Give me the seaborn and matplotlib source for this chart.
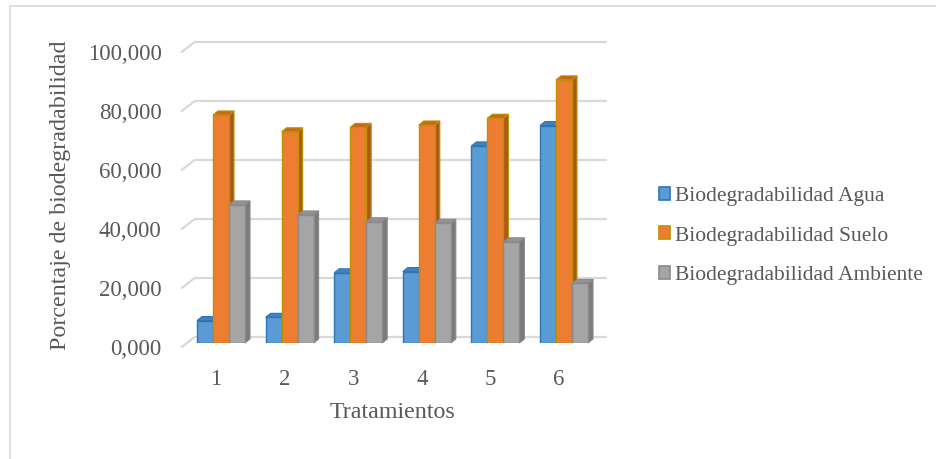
import matplotlib
matplotlib.use("Agg")
import matplotlib.pyplot as plt
import matplotlib.transforms as mtransforms
from matplotlib.patches import Polygon, Patch
from matplotlib.lines import Line2D
import seaborn as sns
import pandas as pd

# Data
tratamientos = ["1", "2", "3", "4", "5", "6"]
series = ["Biodegradabilidad Agua", "Biodegradabilidad Suelo", "Biodegradabilidad Ambiente"]
agua = [7.6, 8.7, 23.8, 24.2, 66.8, 73.7]
suelo = [77.3, 71.6, 73.1, 73.9, 76.2, 89.2]
ambiente = [46.8, 43.4, 41.1, 40.6, 34.3, 20.2]
y_ticks = [0, 20, 40, 60, 80, 100]
y_tick_labels = ["0,000", "20,000", "40,000", "60,000", "80,000", "100,000"]

df = pd.DataFrame({
    "Tratamiento": tratamientos * 3,
    "Serie": [s for s in series for _ in tratamientos],
    "Valor": agua + suelo + ambiente,
})

front = ["#5B9BD5", "#ED7D31", "#A5A5A5"]
edges = ["#2E75B6", "#C09000", "#8A8A8A"]
sides = ["#2F6EAA", "#A85A1C", "#7B7B7B"]
tops = ["#3D82C4", "#C8651F", "#939393"]
text_col = "#595959"
grid_col = "#D9D9D9"

sns.set_theme(style="white")
plt.rcParams["font.family"] = ["Liberation Serif", "DejaVu Serif"]

W, H, DPI = 936, 459, 100
fig = plt.figure(figsize=(W / DPI, H / DPI), dpi=DPI)
fig.patch.set_facecolor("white")

# chart frame: top and left edges
fig.add_artist(Line2D([9.5 / W, 1.0], [(H - 5.5) / H, (H - 5.5) / H],
                      transform=fig.transFigure, color="#D9D9D9", lw=1.2))
fig.add_artist(Line2D([9.5 / W, 9.5 / W], [0, (H - 5.5) / H],
                      transform=fig.transFigure, color="#D9D9D9", lw=1.2))

ax_l, ax_r, ax_t, ax_b = 186.7, 598.3, 48, 343
ax = fig.add_axes([ax_l / W, (H - ax_b) / H, (ax_r - ax_l) / W, (ax_b - ax_t) / H])
ax.set_facecolor("none")

sns.barplot(data=df, x="Tratamiento", y="Valor", hue="Serie", hue_order=series,
            order=tratamientos, palette=front, width=0.7, gap=0, legend=False,
            saturation=1, ax=ax)
ax.set_xlim(-0.5, 5.5)
ax.set_ylim(0, 100)

def px(dx, dy):
    return mtransforms.ScaledTranslation(dx / DPI, dy / DPI, fig.dpi_scale_trans)

back = ax.transData + px(8, 6)
frontT = ax.transData + px(-5, -4)

# back wall gridlines and left diagonals
for v in y_ticks:
    ax.add_line(Line2D([-0.5, 5.5], [v, v], transform=back, color=grid_col, lw=1.6,
                       zorder=0.5, clip_on=False))
    p0 = frontT.transform((-0.5, v))
    p1 = back.transform((-0.5, v))
    ax.add_line(Line2D([p0[0], p1[0]], [p0[1], p1[1]], transform=None, color=grid_col,
                       lw=1.6, zorder=0.5, clip_on=False))

# 3D depth for the bars
px_per_x = (ax_r - ax_l) / 6.0
px_per_y = (ax_b - ax_t) / 100.0
ddx = 5 / px_per_x
ddy = 4 / px_per_y
n = len(tratamientos)
for i, bar in enumerate(ax.patches):
    k = i // n
    x0 = bar.get_x()
    x1 = x0 + bar.get_width()
    h = bar.get_height()
    z = 3 + k * 0.1
    bar.set_edgecolor(edges[k])
    bar.set_linewidth(1.0)
    bar.set_zorder(z)
    side = Polygon([(x1, 0), (x1, h), (x1 + ddx, h + ddy), (x1 + ddx, ddy)], closed=True,
                   facecolor=sides[k], edgecolor=edges[k], lw=0.8, zorder=z - 0.05,
                   clip_on=False)
    top = Polygon([(x0, h), (x1, h), (x1 + ddx, h + ddy), (x0 + ddx, h + ddy)], closed=True,
                  facecolor=tops[k], edgecolor=edges[k], lw=0.8, zorder=z - 0.04,
                  clip_on=False)
    ax.add_patch(side)
    ax.add_patch(top)

for s in ax.spines.values():
    s.set_visible(False)
ax.tick_params(axis="both", length=0, colors=text_col, labelsize=16.5)
ax.set_yticks(y_ticks)
ax.set_yticklabels(y_tick_labels)
ax.tick_params(axis="y", pad=18)
ax.tick_params(axis="x", pad=19)
for lab in ax.get_yticklabels():
    lab.set_transform(lab.get_transform() + px(0, -4))
for lab in ax.get_xticklabels():
    lab.set_transform(lab.get_transform() + px(-5, 0))

ax.set_xlabel("Tratamientos", fontsize=17.3, color=text_col, labelpad=8)
ax.set_ylabel("Porcentaje de biodegradabilidad", fontsize=17.3, color=text_col, labelpad=12)

handles = [Patch(facecolor=front[k], edgecolor=edges[k], lw=1.2) for k in range(3)]
fig.legend(handles, series, loc="center left", bbox_to_anchor=(650 / W, (H - 236) / H),
           frameon=False, fontsize=15.5, labelcolor=text_col, handlelength=0.55,
           handleheight=0.55, handletextpad=0.2, labelspacing=0.95, borderaxespad=0)

fig.savefig("out.png", dpi=DPI, facecolor="white")
